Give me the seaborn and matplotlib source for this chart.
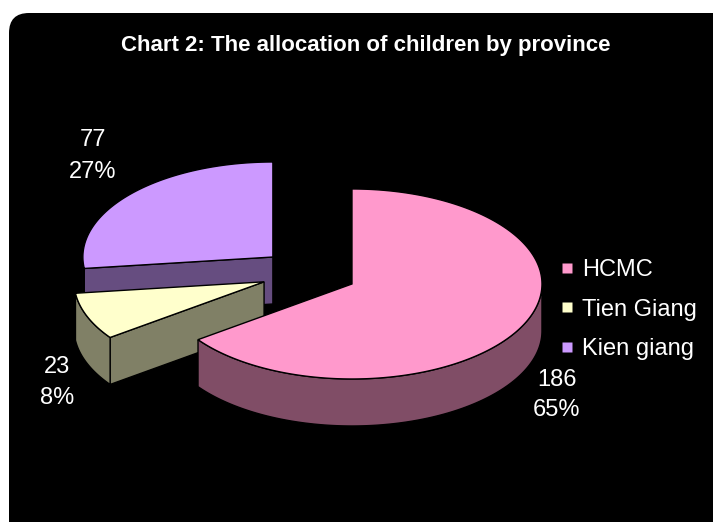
import numpy as np
import matplotlib
matplotlib.use("Agg")
import matplotlib.pyplot as plt
import seaborn as sns
from matplotlib.patches import Polygon, FancyBboxPatch
from matplotlib.lines import Line2D

# data
provinces = ["HCMC", "Tien Giang", "Kien giang"]
children = [186, 23, 77]
percent_labels = ["65%", "8%", "27%"]
top_colors = ["#FF99CC", "#FFFFCC", "#CC99FF"]
side_colors = ["#804D66", "#808066", "#664D80"]

sns.set_theme(style="white")
plt.rcParams['font.family'] = ['Liberation Sans', 'DejaVu Sans']

fig = plt.figure(figsize=(7.13, 5.22), dpi=100)
fig.patch.set_facecolor("white")
ax = fig.add_axes([0, 0, 1, 1])
ax.set_xlim(0, 713)
ax.set_ylim(522, 0)
ax.axis("off")

# black rounded background
ax.add_patch(FancyBboxPatch((9 + 20, 13 + 20), 740 - 40, 540 - 40,
                            boxstyle="round,pad=20", facecolor="black",
                            edgecolor="none", zorder=0))

# pie geometry (pixels)
cx, cy = 309, 273
rx, ry = 190, 95
depth = 47
explode = 0.254


def pt(ox, oy, t, dz=0):
    return ox + rx * np.cos(t), oy - ry * np.sin(t) + dz


total = sum(children)
start = 90.0
slices = []
for i, v in enumerate(children):
    sweep = 360.0 * v / total
    t1, t2 = np.radians(start - sweep), np.radians(start)
    slices.append((i, t1, t2))
    start -= sweep

# drawing order: back slices first
order = [2, 1, 0]
z = 2
for i in order:
    _, t1, t2 = slices[i]
    m = (t1 + t2) / 2
    ox = cx + explode * rx * np.cos(m)
    oy = cy - explode * ry * np.sin(m)
    top, side = top_colors[i], side_colors[i]

    # radial cut faces
    for a, normal in [(t1, t1 - np.pi / 2), (t2, t2 + np.pi / 2)]:
        if np.sin(normal) < -1e-6:
            x0, y0 = ox, oy
            x1, y1 = pt(ox, oy, a)
            quad = [(x0, y0), (x1, y1), (x1, y1 + depth), (x0, y0 + depth)]
            ax.add_patch(Polygon(quad, closed=True, facecolor=side,
                                 edgecolor="black", lw=1, zorder=z))
            z += 1

    # curved outer side (front half only)
    ts = np.linspace(t1, t2, 400)
    vis = np.sin(ts) <= 1e-9
    if vis.any():
        idx = np.where(vis)[0]
        runs = np.split(idx, np.where(np.diff(idx) > 1)[0] + 1)
        for r in runs:
            tt = ts[r]
            xs, ys = pt(ox, oy, tt)
            poly = np.column_stack([np.r_[xs, xs[::-1]],
                                    np.r_[ys, (ys + depth)[::-1]]])
            ax.add_patch(Polygon(poly, closed=True, facecolor=side,
                                 edgecolor="black", lw=1, zorder=z))
            z += 1

    # top face
    xs, ys = pt(ox, oy, ts)
    poly = np.column_stack([np.r_[ox, xs], np.r_[oy, ys]])
    ax.add_patch(Polygon(poly, closed=True, facecolor=top,
                         edgecolor="black", lw=1, zorder=z))
    z += 1

# data labels
label_pos = [(557, 380, 410), (57, 367, 398), (93, 140, 172)]
for i, (lx, ly1, ly2) in enumerate(label_pos):
    ax.text(lx, ly1, str(children[i]), color="white", fontsize=17,
            ha="center", va="center", zorder=50)
    ax.text(lx, ly2, percent_labels[i], color="white", fontsize=17,
            ha="center", va="center", zorder=50)

# title
ax.text(366, 45, "Chart 2: The allocation of children by province",
        color="white", fontsize=16, fontweight="bold",
        ha="center", va="center", zorder=50)

# legend
handles = [Line2D([], [], marker="s", linestyle="none", markersize=7,
                  markerfacecolor=c, markeredgecolor="none") for c in top_colors]
leg = ax.legend(handles, provinces, loc="upper left",
                bbox_to_anchor=(550 / 713, 1 - 250 / 522),
                frameon=False, fontsize=17, labelcolor="white",
                handlelength=0.6, handletextpad=0.35, labelspacing=0.73,
                borderaxespad=0)
leg.set_zorder(60)

fig.savefig("out.png", dpi=100, facecolor="white")
